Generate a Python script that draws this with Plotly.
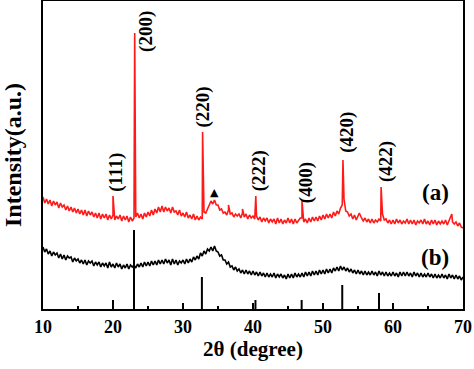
import plotly.graph_objects as go

# ---------------- data ----------------
grid_start, grid_step = 10.0, 0.25

# sample (b): black curve, heights at 10.00, 10.25, ... 70.00
b_y = [
    62, 57, 60, 55,  58, 53, 57, 54,  56, 51, 55, 50,  54, 49, 53, 51,
    52, 47, 51, 48,  50, 46, 49, 45,  49, 44, 48, 46,  48, 43, 47, 44,
    47, 42, 46, 43,  46, 41, 47, 42,  45, 41, 46, 42,  45, 40, 44, 41,
    45, 40, 44, 42,  44, 41, 45, 42,  46, 42, 47, 43,  47, 43, 48, 44,
    48, 44, 49, 45,  49, 45, 50, 46,  49, 44, 50, 45,  49, 44, 48, 46,
    49, 45, 50, 46,  50, 47, 52, 49,  53, 50, 56, 53,  58, 55, 60, 58,
    62, 58, 63, 58,  57, 53, 54, 49,  49, 45, 47, 42,  43, 39, 42, 38,
    40, 36, 39, 35,  39, 35, 38, 34,  38, 34, 37, 33,  37, 33, 36, 32,
    36, 32, 35, 32,  36, 31, 35, 32,  35, 31, 34, 30,  35, 31, 35, 31,
    36, 32, 35, 32,  36, 32, 37, 33,  37, 33, 38, 34,  38, 34, 39, 35,
    39, 35, 40, 36,  40, 36, 41, 38,  42, 38, 43, 39,  42, 38, 41, 37,
    40, 36, 39, 35,  39, 35, 38, 34,  38, 34, 37, 34,  38, 34, 37, 33,
    38, 34, 37, 33,  37, 33, 36, 33,  37, 33, 36, 32,  37, 33, 37, 33,
    37, 33, 36, 32,  37, 33, 36, 32,  36, 32, 35, 32,  36, 32, 35, 31,
    35, 31, 34, 31,  35, 31, 34, 30,  35, 31, 34, 30,  34, 30, 33, 29,
    32,
]

# sample (a): red curve background, same grid
a_y = [
    112, 106, 110, 105,  109, 103, 108, 104,  107, 101, 106, 102,  104, 99, 103, 98,
    102, 97, 101, 96,    100, 95, 99, 94,     99, 93, 98, 94,      97, 92, 96, 91,
    96, 90, 95, 91,      95, 89, 94, 90,      94, 89, 93, 90,      94, 88, 93, 89,
    93, 87, 92, 88,      91, 92, 96, 91,      95, 90, 96, 92,      97, 93, 99, 94,
    100, 96, 102, 97,    103, 97, 102, 98,    101, 96, 102, 97,    98, 94, 99, 93,
    96, 92, 97, 91,      94, 90, 95, 89,      93, 89, 92, 90,      97, 96, 101, 104,
    108, 105, 109, 104,  104, 99, 100, 96,    97, 94, 99, 95,      96, 92, 95, 93,
    95, 91, 96, 92,      95, 90, 94, 91,      93, 90, 93, 89,      92, 87, 91, 88,
    91, 86, 90, 87,      90, 85, 91, 86,      90, 85, 89, 86,      91, 86, 90, 85,
    90, 86, 89, 91,      91, 87, 90, 86,      91, 87, 92, 88,      92, 88, 93, 89,
    94, 90, 95, 91,      95, 91, 97, 93,      98, 95, 101, 104,    110, 98, 97, 93,
    95, 90, 94, 89,      93, 95, 91, 88,      91, 87, 90, 86,      90, 86, 89, 87,
    90, 88, 95, 89,      90, 86, 89, 85,      89, 85, 90, 86,      89, 85, 88, 86,
    90, 85, 89, 85,      89, 84, 88, 86,      89, 85, 90, 85,      88, 84, 89, 85,
    89, 84, 88, 85,      88, 85, 89, 84,      88, 91, 87, 85,      87, 83, 86, 82,
    81,
]

# sharp diffraction peaks of sample (a)
peak_x = [20.0, 23.1, 32.8, 36.5, 38.5, 40.4, 47.0, 52.85, 55.2, 58.3, 68.4]
peak_y = [113, 276, 177, 104, 100, 113, 108, 149, 96, 122, 95]

# reference pattern (standard card) lines
ref_x = [20.0, 23.0, 32.7, 40.35, 46.95, 52.75, 58.0]
ref_h = [9, 79, 32, 9, 9, 24, 16]

# peak labels
hkl_text = ["(111)", "(200)", "(220)", "(222)", "(400)", "(420)", "(422)"]
hkl_x = [20.4, 24.7, 32.8, 40.9, 47.6, 53.4, 59.0]
hkl_y = [137, 278, 202, 138, 126, 177, 147]

x_ticks = [10, 20, 30, 40, 50, 60, 70]

# ---------------- build ----------------
gx = [grid_start + i * grid_step for i in range(len(a_y))]
pts = sorted(list(zip(gx, a_y)) + list(zip(peak_x, peak_y)))
ax_ = [p[0] for p in pts]
ay_ = [p[1] for p in pts]
bx_ = [grid_start + i * grid_step for i in range(len(b_y))]

sx, sy = [], []
for x, h in zip(ref_x, ref_h):
    sx += [x, x, None]
    sy += [0, h, None]

fig = go.Figure()
fig.add_trace(go.Scatter(x=bx_, y=b_y, mode="lines",
                         line=dict(color="black", width=1.6), showlegend=False))
fig.add_trace(go.Scatter(x=ax_, y=ay_, mode="lines",
                         line=dict(color="#ff1a1a", width=1.6), showlegend=False))
fig.add_trace(go.Scatter(x=sx, y=sy, mode="lines",
                         line=dict(color="black", width=2), showlegend=False))

FONT = "Liberation Serif"
for t, x, y in zip(hkl_text, hkl_x, hkl_y):
    fig.add_annotation(x=x, y=y, text="<b>%s</b>" % t, showarrow=False,
                       textangle=-90, font=dict(family=FONT, size=19, color="black"))
fig.add_annotation(x=34.5, y=117, text="▲", showarrow=False,
                   font=dict(family="DejaVu Sans", size=11, color="black"))
fig.add_annotation(x=66.0, y=117, text="<b>(a)</b>", showarrow=False,
                   font=dict(family=FONT, size=23, color="black"))
fig.add_annotation(x=66.0, y=52, text="<b>(b)</b>", showarrow=False,
                   font=dict(family=FONT, size=23, color="black"))

fig.update_layout(
    width=474, height=369,
    margin=dict(l=43, r=11, t=1, b=60, autoexpand=False),
    paper_bgcolor="white", plot_bgcolor="white",
    font=dict(family=FONT, color="black"),
    xaxis=dict(range=[10, 70], tickvals=x_ticks, automargin=False,
               ticktext=["<b>%d</b>" % v for v in x_ticks],
               tickfont=dict(family=FONT, size=18),
               ticks="inside", ticklen=6, tickwidth=1.5, tickcolor="black",
               minor=dict(dtick=5, ticks="inside", ticklen=3, tickwidth=1.5, tickcolor="black"),
               showline=True, linecolor="black", linewidth=2, mirror=True,
               showgrid=False, zeroline=False,
               title=dict(text="<b>2θ (degree)</b>", font=dict(family=FONT, size=21), standoff=2)),
    yaxis=dict(range=[0, 308], showticklabels=False, ticks="", automargin=False,
               showline=True, linecolor="black", linewidth=2, mirror=True,
               showgrid=False, zeroline=False,
               title=dict(text="<b>Intensity(a.u.)</b>", font=dict(family=FONT, size=24), standoff=14)),
)

fig.write_html("out.html", config={"displayModeBar": False},
               post_script="document.body.style.margin='0px';document.body.style.overflow='hidden';")
